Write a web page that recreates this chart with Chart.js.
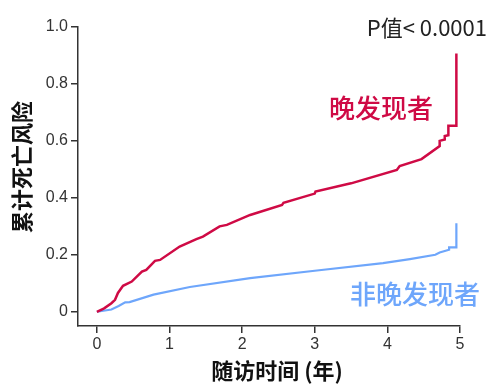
<!DOCTYPE html>
<html>
<head>
<meta charset="utf-8">
<script src="https://cdn.jsdelivr.net/npm/chart.js@4.4.0/dist/chart.umd.min.js"></script>
<style>
  body { margin: 0; background: #fff; }
  #wrap { width: 499px; height: 391px; }
</style>
</head>
<body>
<div id="wrap"><canvas id="grafico" width="499" height="391"></canvas></div>
<script>
// Datos
const xTicks = [0, 1, 2, 3, 4, 5];
const yTicks = [0, 0.2, 0.4, 0.6, 0.8, 1.0];

const tardioX = [0, 0.1, 0.2, 0.25, 0.29, 0.36, 0.48, 0.62, 0.68, 0.8, 0.87, 1.14, 1.37, 1.46, 1.69, 1.79, 2.11, 2.55, 2.57, 3.0, 3.01, 3.44, 3.5, 4.13, 4.17, 4.47, 4.72, 4.72, 4.79, 4.79, 4.84, 4.84, 4.95, 4.95];
const tardioY = [0, 0.012, 0.03, 0.042, 0.066, 0.091, 0.106, 0.141, 0.147, 0.179, 0.182, 0.229, 0.255, 0.264, 0.30, 0.305, 0.34, 0.375, 0.383, 0.415, 0.422, 0.448, 0.451, 0.498, 0.512, 0.536, 0.582, 0.60, 0.605, 0.617, 0.62, 0.653, 0.653, 0.907];

const normalX = [0, 0.2, 0.3, 0.39, 0.45, 0.78, 1.28, 2.11, 3.03, 3.94, 4.31, 4.66, 4.72, 4.85, 4.85, 4.95, 4.95];
const normalY = [0, 0.008, 0.02, 0.033, 0.034, 0.06, 0.087, 0.118, 0.145, 0.171, 0.185, 0.20, 0.208, 0.218, 0.226, 0.226, 0.311];

const colorRojo = '#cf0a45';
const colorAzul = '#6ea6fb';

function puntos(xs, ys) {
  return xs.map((x, i) => ({ x: x, y: ys[i] }));
}

// Plugin para los textos
const textos = {
  id: 'textos',
  afterDraw(chart) {
    const ctx = chart.ctx;
    ctx.save();
    ctx.textBaseline = 'middle';

    ctx.fillStyle = '#222';
    ctx.font = '22px "Noto Sans CJK SC"';
    ctx.textAlign = 'right';
    ctx.fillText('P值< 0.0001', 487, 28);

    ctx.textAlign = 'left';
    ctx.fillStyle = colorRojo;
    ctx.font = '500 26px "Noto Sans CJK SC"';
    ctx.fillText('晚发现者', 329, 108);

    ctx.fillStyle = colorAzul;
    ctx.fillText('非晚发现者', 350, 294);

    ctx.fillStyle = '#111';
    ctx.font = 'bold 22px "Noto Sans CJK SC"';
    ctx.textAlign = 'center';
    ctx.fillText('随访时间 (年)', 277, 371);

    ctx.translate(22, 167);
    ctx.rotate(-Math.PI / 2);
    ctx.fillText('累计死亡风险', 0, 0);
    ctx.restore();
  }
};

const ctx = document.getElementById('grafico').getContext('2d');
new Chart(ctx, {
  type: 'line',
  data: {
    datasets: [
      {
        label: '晚发现者',
        data: puntos(tardioX, tardioY),
        borderColor: colorRojo,
        borderWidth: 2.5,
        pointRadius: 0,
        tension: 0,
        fill: false
      },
      {
        label: '非晚发现者',
        data: puntos(normalX, normalY),
        borderColor: colorAzul,
        borderWidth: 2.2,
        pointRadius: 0,
        tension: 0,
        fill: false
      }
    ]
  },
  options: {
    responsive: false,
    animation: false,
    layout: { padding: { left: 0, top: 27, right: 39, bottom: 0 } },
    plugins: {
      legend: { display: false },
      tooltip: { enabled: false }
    },
    scales: {
      x: {
        type: 'linear',
        min: -0.26,
        max: 5,
        afterBuildTicks: (scale) => { scale.ticks = xTicks.map(v => ({ value: v })); },
        afterFit: (scale) => { scale.height = 65; },
        grid: { drawOnChartArea: false, drawTicks: true, tickLength: 7, color: '#333', lineWidth: 1.5 },
        border: { display: true, color: '#333', width: 1.5 },
        ticks: {
          color: '#333',
          padding: 2,
          font: { family: '"Liberation Sans", Arial', size: 16 },
          maxRotation: 0,
          callback: (v) => String(v)
        }
      },
      y: {
        min: -0.05,
        max: 1.0,
        afterBuildTicks: (scale) => { scale.ticks = yTicks.map(v => ({ value: v })); },
        afterFit: (scale) => { scale.width = 78; },
        grid: { drawOnChartArea: false, drawTicks: true, tickLength: 7, color: '#333', lineWidth: 1.5 },
        border: { display: true, color: '#333', width: 1.5 },
        ticks: {
          color: '#333',
          padding: 3,
          font: { family: '"Liberation Sans", Arial', size: 16 },
          callback: (v) => v === 0 ? '0' : v.toFixed(1)
        }
      }
    }
  },
  plugins: [textos]
});
</script>
</body>
</html>
